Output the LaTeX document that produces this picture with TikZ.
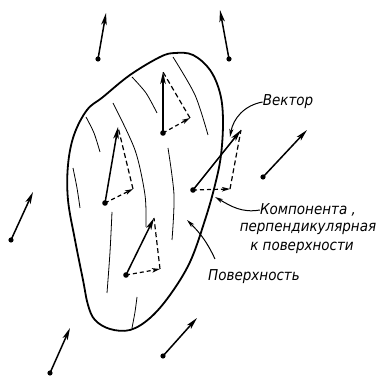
\documentclass[tikz,border=0pt]{standalone}
\usepackage{fontspec}
\newfontfamily\labelfont{DejaVu Sans Condensed}
\usetikzlibrary{arrows.meta}
\tikzset{
  vec/.style={line width=1.5pt, -{Stealth[length=12pt,width=5.5pt,inset=3pt]}},
  compo/.style={line width=1.2pt, dash pattern=on 4pt off 3pt, -{Stealth[length=8pt,width=4.5pt,inset=2pt]}},
  proj/.style={line width=1.2pt, dash pattern=on 5pt off 3pt},
  hatch/.style={line width=0.8pt},
  ptr/.style={line width=1pt, -{Stealth[length=8pt,width=4pt,inset=2pt]}},
  lbl/.style={font=\labelfont\itshape\fontsize{15}{17}\selectfont, inner sep=0pt},
}
\begin{document}
\begin{tikzpicture}[x=1pt,y=1pt]
\useasboundingbox (0,0) rectangle (377,380);

% surface outline
\draw[line width=1.8pt] plot[smooth cycle, tension=0.6] coordinates {
  (87,270) (103,283) (130,305) (160,323) (175,327) (193,325) (210,310)
  (220,287) (223,260) (221,225) (215,195) (205,160) (190,118) (170,85)
  (150,62) (130,50) (110,51) (95,60) (88,75) (83,100) (75,140) (68,180)
  (68,215) (74,245)};

% hatching on the surface
\draw[hatch] plot[smooth] coordinates {(86,263) (94,247) (100,228)};
\draw[hatch] plot[smooth] coordinates {(73,212) (77,192) (80,172)};
\draw[hatch] plot[smooth] coordinates {(113,277) (135,230) (145,185) (146,153)};
\draw[hatch] plot[smooth] coordinates {(132,303) (146,287) (157,267)};
\draw[hatch] plot[smooth] coordinates {(168,232) (174,185) (172,140)};
\draw[hatch] plot[smooth] coordinates {(173,323) (195,285) (208,245)};
\draw[hatch] plot[smooth] coordinates {(112,168) (110,128) (107,87)};
\draw[hatch] plot[smooth] coordinates {(137,83) (135,68) (132,52)};

% vectors away from the surface
\coordinate (o1) at (98,321);  \coordinate (o1t) at (106,367);
\coordinate (o2) at (229,321); \coordinate (o2t) at (220,370);
\coordinate (o3) at (263,203); \coordinate (o3t) at (307,250);
\coordinate (o4) at (11,140);  \coordinate (o4t) at (33,188);
\coordinate (o5) at (50,7);    \coordinate (o5t) at (70,52);
\coordinate (o6) at (163,24);  \coordinate (o6t) at (197,62);
\foreach \n in {o1,o2,o3,o4,o5,o6} {
  \draw[vec] (\n) -- (\n t);
  \fill (\n) circle (2.6);
}

% vectors on the surface with their components
\coordinate (a) at (163,247); \coordinate (at) at (163,308); \coordinate (ac) at (190,262);
\coordinate (b) at (105,177); \coordinate (bt) at (118,253); \coordinate (bc) at (133,191);
\coordinate (c) at (126,105); \coordinate (ct) at (154,162); \coordinate (cc) at (160,111);
\coordinate (d) at (193,190); \coordinate (dt) at (241,250); \coordinate (dc) at (230,191);
\foreach \n in {a,b,c,d} {
  \draw[vec] (\n) -- (\n t);
  \draw[compo] (\n) -- (\n c);
  \draw[proj] (\n c) -- (\n t);
  \fill (\n) circle (2.8);
}

% labels
\node[lbl] (lblvec) at (288,278) {Вектор};
\node[lbl] (comp1) at (308,170) {Компонента ,};
\node[lbl] (comp2) at (308,151) {перпендикулярная};
\node[lbl] (comp3) at (302,132) {к поверхности};
\node[lbl] (surf) at (254,103) {Поверхность};

\coordinate (vecend) at (230,243);
\coordinate (compend) at (215,183);
\coordinate (surfend) at (187,160);
\coordinate (surfstart) at (215,121);
\draw[ptr] (lblvec.west) to[out=190, in=80] (vecend);
\draw[ptr] (comp1.west) to[out=190, in=-30] (compend);
\draw[ptr] (surfstart) to[out=115, in=-45] (surfend);
\end{tikzpicture}
\end{document}
